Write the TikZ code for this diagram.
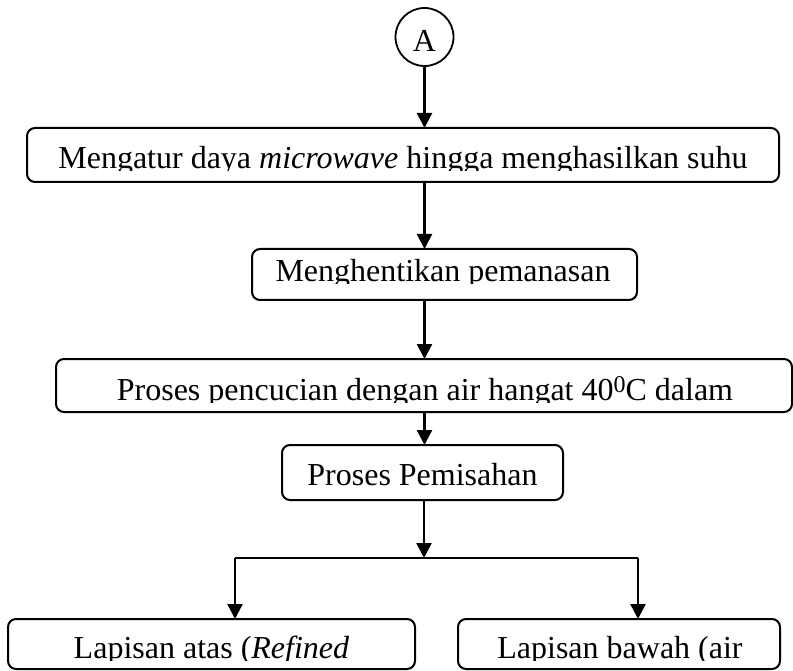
\documentclass[tikz,border=0pt]{standalone}
\usepackage{fontspec}
\setmainfont{Liberation Serif}
\usetikzlibrary{arrows.meta}
\begin{document}
\begin{tikzpicture}[x=1pt,y=-1pt,
  every node/.style={inner sep=0pt,outer sep=0pt},
  flowbox/.style={draw,line width=2pt,rounded corners=8pt},
  boxtext/.style={font=\fontsize{32}{36}\selectfont,anchor=base},
  conn/.style={line width=2.4pt},
  flow/.style={conn,-{Triangle[length=15pt,width=15pt]}}]
\useasboundingbox (0,0) rectangle (793,671);

% start connector
\node[draw,circle,line width=1.8pt,minimum size=58pt] (A) at (424.5,37) {};
\node[boxtext] (tA) at (424.5,52) {A};

% process boxes
\node[flowbox,minimum width=752pt,minimum height=54pt] (b1) at (403,155) {};
\node[flowbox,minimum width=385pt,minimum height=51pt] (b2) at (444.5,274.5) {};
\node[flowbox,minimum width=736pt,minimum height=53pt] (b3) at (424,385.5) {};
\node[flowbox,minimum width=281pt,minimum height=55pt] (b4) at (422.5,472.5) {};
\node[flowbox,minimum width=407pt,minimum height=50pt] (b5) at (211.5,644) {};
\node[flowbox,minimum width=322pt,minimum height=50pt] (b6) at (619,644) {};

% box texts, cut off just below the baseline
\begin{scope}
  \clip (b1.north west) rectangle (779,171);
  \node[boxtext] (t1) at (403,169) {Mengatur daya \textit{microwave} hingga menghasilkan suhu};
\end{scope}
\begin{scope}
  \clip (b2.north west) rectangle (637,284);
  \node[boxtext] (t2) at (443,282) {Menghentikan pemanasan};
\end{scope}
\begin{scope}
  \clip (b3.north west) rectangle (792,402);
  \node[boxtext] (t3) at (425,400) {Proses pencucian dengan air hangat 40\raisebox{0.5ex}{\fontsize{24}{26}\selectfont 0}C dalam};
\end{scope}
\node[boxtext] (t4) at (422.5,485) {Proses Pemisahan};
\begin{scope}
  \clip (b5.north west) rectangle (415,660);
  \node[boxtext] (t5) at (211.5,658) {Lapisan atas (\textit{Refined}};
\end{scope}
\begin{scope}
  \clip (b6.north west) rectangle (780,660);
  \node[boxtext] (t6) at (620,658) {Lapisan bawah (air};
\end{scope}

% connectors
\coordinate (j) at (424,558);
\coordinate (jl) at (235,558);
\coordinate (jr) at (638,558);
\draw[flow] (A.south) -- (A.south |- b1.north);
\draw[flow] (b1.south -| A.south) -- (b2.north -| A.south);
\draw[flow] (b2.south -| A.south) -- (b3.north -| A.south);
\draw[flow] (b3.south -| A.south) -- (b4.north -| A.south);
\draw[flow] (b4.south -| j) -- (j);
\draw[conn] (jl) -- (jr);
\draw[flow] (jl) -- (jl |- b5.north);
\draw[flow] (jr) -- (jr |- b6.north);
\end{tikzpicture}
\end{document}
